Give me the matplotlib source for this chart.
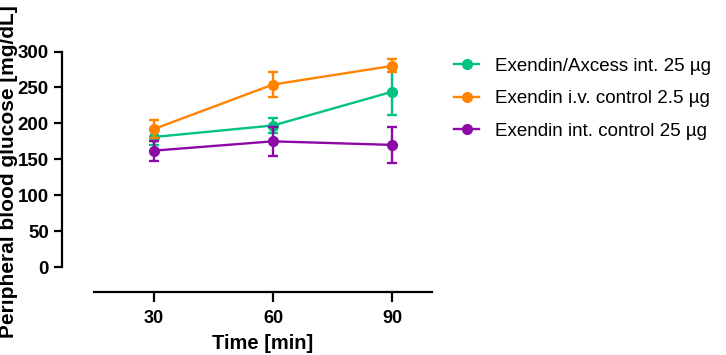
import matplotlib
matplotlib.use("Agg")
import matplotlib.pyplot as plt
from matplotlib.lines import Line2D

plt.rcParams['font.family'] = ['Liberation Sans', 'DejaVu Sans']

times = [30, 60, 90]
labels = ["Exendin/Axcess int. 25 µg", "Exendin i.v. control 2.5 µg", "Exendin int. control 25 µg"]
green_mean = [181, 197, 244]
green_err = [11, 11, 33]
orange_mean = [192, 254, 280]
orange_err = [13, 17, 9]
purple_mean = [162, 175, 170]
purple_err = [14, 20, 25]
colors = ["#00C281", "#FF8300", "#8B0AA5"]
yticks = [0, 50, 100, 150, 200, 250, 300]

fig = plt.figure(figsize=(7.26, 3.55), dpi=100)
ax = fig.add_axes([94/726, 1-292/355, (432-94)/726, (292-51.5)/355])

series = [(green_mean, green_err), (orange_mean, orange_err), (purple_mean, purple_err)]
order = [1, 0, 2]
for i in order:
    m, e = series[i]
    ax.errorbar(times, m, yerr=e, color=colors[i], marker='o', markersize=7,
                linewidth=1.7, elinewidth=1.7, capsize=3.5, capthick=1.7,
                clip_on=False, zorder=3+i)

ax.set_xlim(15, 100)
ax.set_ylim(-34.7, 300)
ax.spines['top'].set_visible(False)
ax.spines['right'].set_visible(False)
ax.spines['left'].set_position(('outward', 23))
ax.spines['left'].set_bounds(0, 300)
for s in ['left', 'bottom']:
    ax.spines[s].set_linewidth(1.6)
ax.set_yticks(yticks)
ax.set_xticks(times)
ax.tick_params(axis='y', length=6, width=1.6, labelsize=13.5, pad=3.5)
ax.tick_params(axis='x', length=7, width=1.6, labelsize=13, pad=6)
for lab in ax.get_xticklabels() + ax.get_yticklabels():
    lab.set_fontweight('bold')
ax.set_xlabel("Time [min]", fontsize=14.5, fontweight='bold', labelpad=5)
ax.set_ylabel("Peripheral blood glucose [mg/dL]", fontsize=15, fontweight='bold')
ax.yaxis.set_label_coords((18 - 94) / 338, 0.5)

handles = [Line2D([], [], color=colors[i], marker='o', markersize=7, linewidth=1.7) for i in range(3)]
fig.legend(handles, labels, loc='upper left',
           bbox_to_anchor=(437/726, 1-41/355), frameon=False, fontsize=13.5,
           handlelength=1.35, handletextpad=0.85, labelspacing=0.81)

fig.savefig("out.png", dpi=100)
